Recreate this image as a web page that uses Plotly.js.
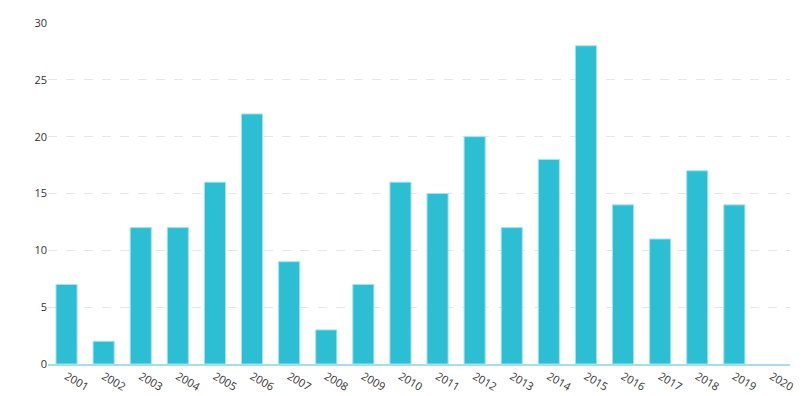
<!DOCTYPE html>
<html>
<head>
<meta charset="utf-8">
<script src="https://cdn.plot.ly/plotly-3.0.1.min.js"></script>
<style>html,body{margin:0;padding:0;background:#fff;}#chart{width:803px;height:396px;}</style>
</head>
<body>
<div id="chart"></div>
<script>
const years = ['2001','2002','2003','2004','2005','2006','2007','2008','2009','2010','2011','2012','2013','2014','2015','2016','2017','2018','2019','2020'];
const counts = [7,2,12,12,16,22,9,3,7,16,15,20,12,18,28,14,11,17,14,null];
const yTicks = [0,5,10,15,20,25,30];

Plotly.newPlot('chart', [{
  type: 'bar',
  x: years,
  y: counts,
  marker: {color: '#2cbfd3', line: {color: '#a8e3ec', width: 1}},
  hoverinfo: 'x+y'
}], {
  width: 803, height: 396,
  margin: {l: 48, r: 13, t: 23, b: 32},
  paper_bgcolor: '#fff', plot_bgcolor: '#fff',
  bargap: 0.43,
  showlegend: false,
  font: {family: 'Open Sans, Noto Sans, sans-serif', size: 11, color: '#333'},
  xaxis: {
    type: 'category', tickangle: 30, showgrid: false,
    showline: true, linecolor: '#a6dfe9', linewidth: 2,
    ticks: '', tickfont: {size: 11, color: '#333'}, zeroline: false
  },
  yaxis: {
    range: [0, 30], tickvals: yTicks, ticktext: yTicks.map(String),
    showgrid: true, gridcolor: '#e3e6eb', griddash: 'dash', gridwidth: 1,
    zeroline: false, showline: false, ticks: '', ticklen: 0,
    tickfont: {size: 11, color: '#333'}
  }
}, {displayModeBar: false, staticPlot: true});
</script>
</body>
</html>
